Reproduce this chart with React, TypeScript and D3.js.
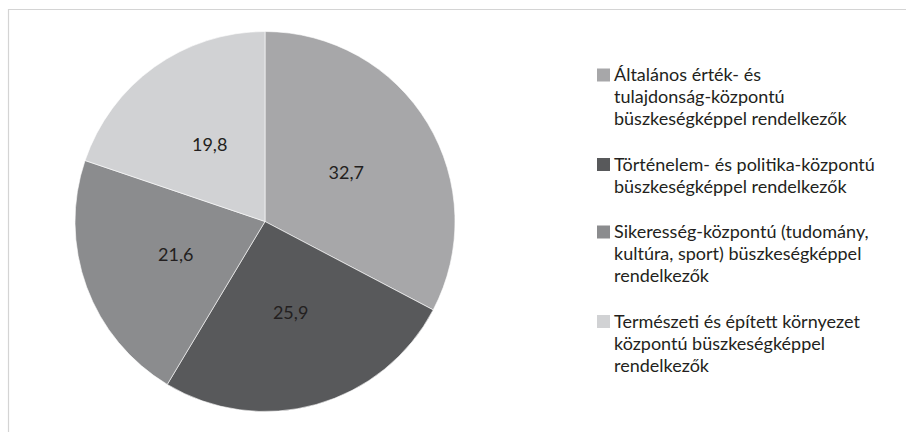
import React from "react";
import * as d3 from "d3";

const categories = [
  "Általános érték- és tulajdonság-központú büszkeségképpel rendelkezők",
  "Történelem- és politika-központú büszkeségképpel rendelkezők",
  "Sikeresség-központú (tudomány, kultúra, sport) büszkeségképpel rendelkezők",
  "Természeti és épített környezet központú büszkeségképpel rendelkezők",
];
const legendLines = [
  ["Általános érték- és", "tulajdonság-központú", "büszkeségképpel rendelkezők"],
  ["Történelem- és politika-központú", "büszkeségképpel rendelkezők"],
  ["Sikeresség-központú (tudomány,", "kultúra, sport) büszkeségképpel", "rendelkezők"],
  ["Természeti és épített környezet", "központú büszkeségképpel", "rendelkezők"],
];
const values = [32.7, 25.9, 21.6, 19.8];
const colors = ["#a7a7a9", "#58595b", "#8b8c8e", "#d1d2d4"];

const W = 906;
const H = 432;
const FONT = "Lato, 'Open Sans', sans-serif";

export default function App() {
  const cx = 265;
  const cy = 221.5;
  const r = 190;
  const pie = d3.pie<number>().sort(null).value((d) => d)(values);
  const arc = d3.arc<d3.PieArcDatum<number>>().innerRadius(0).outerRadius(r);
  const fmt = (v: number) => v.toFixed(1).replace(".", ",");

  const lineH = 22;
  const gap = 23.5;
  let y = 75;
  const legendItems = legendLines.map((lines, i) => {
    const item = { y0: y, lines, i, name: categories[i] };
    y += lines.length * lineH + gap;
    return item;
  });

  return (
    <svg
      width={W}
      height={H}
      style={{ position: "absolute", left: 0, top: 0, background: "#fff" }}
      fontFamily={FONT}
    >
      <rect x={0} y={0} width={W} height={H} fill="#fff" />
      <line x1={8} y1={9.5} x2={W} y2={9.5} stroke="#d4d4d4" strokeWidth={1.2} />
      <line x1={8.5} y1={9} x2={8.5} y2={H} stroke="#d4d4d4" strokeWidth={1.2} />
      <g transform={`translate(${cx},${cy})`}>
        {pie.map((p, i) => (
          <path key={i} d={arc(p) || ""} fill={colors[i]} stroke="#ffffff" strokeWidth={0.6} />
        ))}
        {pie.map((p, i) => {
          const [x, yy] = arc.centroid(p);
          return (
            <text
              key={i}
              x={x}
              y={yy}
              dy="0.35em"
              textAnchor="middle"
              fontSize={18}
              fill="#231f20"
            >
              {fmt(values[i])}
            </text>
          );
        })}
      </g>
      <g>
        {legendItems.map((it) => (
          <g key={it.i}>
            <title>{it.name}</title>
            <rect x={597} y={it.y0 - 6.5} width={13} height={13} fill={colors[it.i]} />
            {it.lines.map((t, j) => (
              <text
                key={j}
                x={614}
                y={it.y0 + j * lineH}
                dy="0.35em"
                fontSize={18}
                fill="#231f20"
              >
                {t}
              </text>
            ))}
          </g>
        ))}
      </g>
    </svg>
  );
}
